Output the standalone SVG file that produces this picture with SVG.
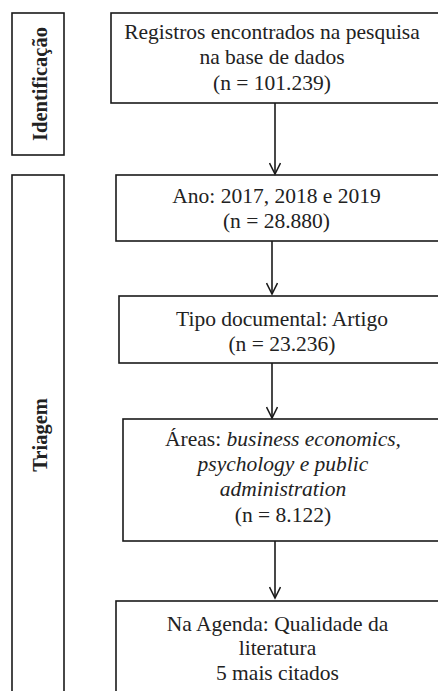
<svg xmlns="http://www.w3.org/2000/svg" width="438" height="691" viewBox="0 0 438 691">
<defs>
<style>
.box{fill:#fff;stroke:#1a1a1a;stroke-width:1.6}
.t{font-family:"Liberation Serif","Times New Roman",serif;font-size:21.5px;fill:#222;text-anchor:middle}
.side{font-family:"Liberation Serif","Times New Roman",serif;font-size:20.5px;font-weight:bold;fill:#222;text-anchor:middle}
.i{font-style:italic}
.c{stroke:#1a1a1a;stroke-width:1.6;fill:none}
</style>
<marker id="v" viewBox="0 0 14 12" refX="12" refY="6" markerWidth="14" markerHeight="12" markerUnits="userSpaceOnUse" orient="auto">
<path d="M1,0.5 L12,6 L1,11.5" fill="none" stroke="#1a1a1a" stroke-width="1.6"/>
</marker>
</defs>
<rect width="438" height="691" fill="#fff"/>
<g id="identificacao">
<rect class="box" x="12" y="13" width="52" height="142"/>
<text class="side" transform="translate(47,84) rotate(-90)">Identificação</text>
</g>
<g id="triagem">
<rect class="box" x="12" y="175" width="52" height="530"/>
<text class="side" transform="translate(47,435) rotate(-90)">Triagem</text>
</g>
<g id="registros">
<rect class="box" x="111" y="13" width="340" height="90"/>
<text class="t" x="272" y="38.5">Registros encontrados na pesquisa</text>
<text class="t" x="272" y="64">na base de dados</text>
<text class="t" x="272" y="89.5">(n = 101.239)</text>
</g>
<g id="ano">
<rect class="box" x="116" y="175" width="335" height="66"/>
<text class="t" x="276.5" y="202.5">Ano: 2017, 2018 e 2019</text>
<text class="t" x="276.5" y="227.5">(n = 28.880)</text>
</g>
<g id="tipo">
<rect class="box" x="119" y="296" width="332" height="67"/>
<text class="t" x="282" y="325.5">Tipo documental: Artigo</text>
<text class="t" x="282" y="350.5">(n = 23.236)</text>
</g>
<g id="areas">
<rect class="box" x="123" y="419" width="328" height="122"/>
<text class="t" x="283" y="446">Áreas: <tspan class="i">business economics,</tspan></text>
<text class="t i" x="283" y="470.5">psychology e public</text>
<text class="t i" x="283" y="496">administration</text>
<text class="t" x="283" y="522">(n = 8.122)</text>
</g>
<g id="agenda">
<rect class="box" x="116" y="601" width="335" height="110"/>
<text class="t" x="277.5" y="630.5">Na Agenda: Qualidade da</text>
<text class="t" x="277.5" y="655">literatura</text>
<text class="t" x="277.5" y="679.5">5 mais citados</text>
</g>
<g id="connectors">
<line class="c" x1="275" y1="103" x2="275" y2="174" marker-end="url(#v)"/>
<line class="c" x1="272" y1="241" x2="272" y2="294" marker-end="url(#v)"/>
<line class="c" x1="272" y1="363" x2="272" y2="418" marker-end="url(#v)"/>
<line class="c" x1="275" y1="541" x2="275" y2="598" marker-end="url(#v)"/>
</g>
</svg>
